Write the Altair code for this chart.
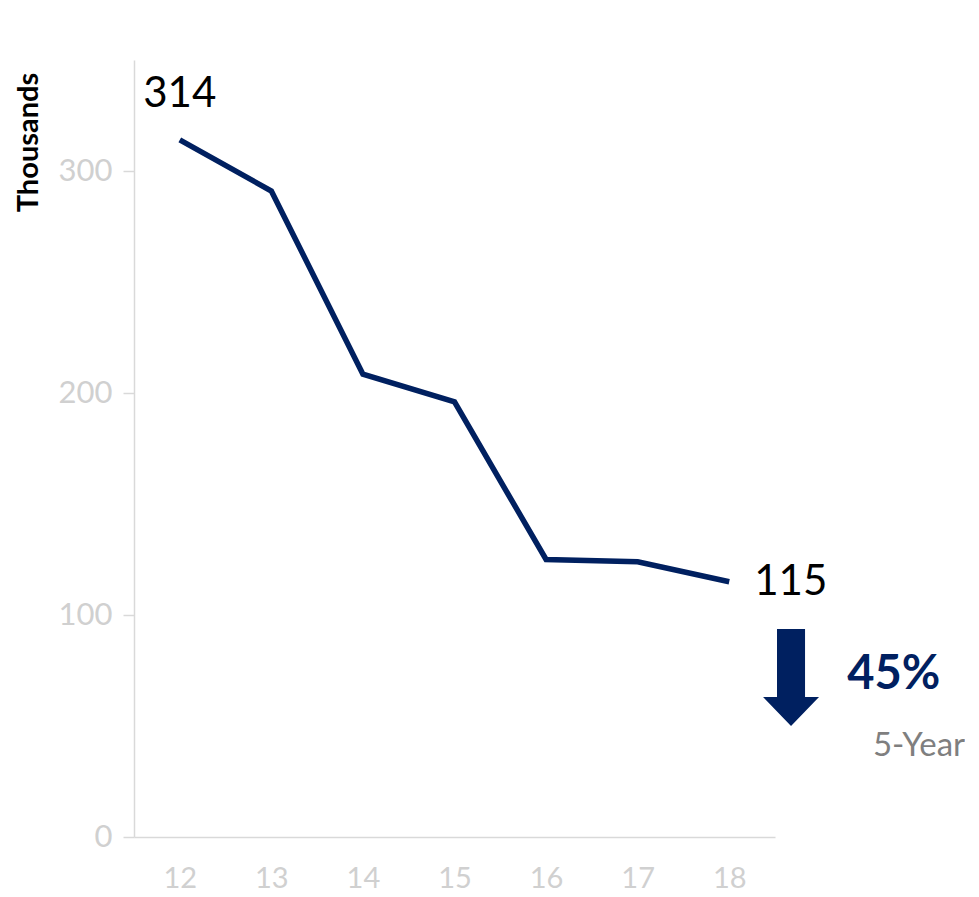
import altair as alt
import pandas as pd

# data
years = [12, 13, 14, 15, 16, 17, 18]
values = [314, 291, 208.5, 196, 125, 124, 115]
end_labels = ["314", "", "", "", "", "", "115"]

change_text = ["45%"]
period_text = ["5-Year"]

NAVY = "#002060"
FONT = "Lato"

df = pd.DataFrame({"year": years, "value": values, "label": end_labels})

x_scale = alt.Scale(domain=[11.5, 18.5], nice=False, zero=False)
y_scale = alt.Scale(domain=[0, 350], nice=False)

x_enc = alt.X(
    "year:Q",
    scale=x_scale,
    axis=alt.Axis(
        values=years, format="d", title=None, ticks=False, grid=False,
        labelFontSize=29, labelColor="#d0d0d0", labelFont=FONT,
        labelPadding=27, domainColor="#d9d9d9", domainWidth=1.5,
    ),
)
y_enc = alt.Y(
    "value:Q",
    scale=y_scale,
    axis=alt.Axis(
        values=[0, 100, 200, 300], title="Thousands", grid=False,
        labelFontSize=31, labelColor="#d0d0d0", labelFont=FONT,
        labelPadding=11, tickSize=11, tickColor="#d9d9d9", tickWidth=1.5,
        domainColor="#d9d9d9", domainWidth=1.5,
        titleFont=FONT, titleFontSize=29, titleFontWeight="bold",
        titleColor="black", titleAngle=-90, titleX=-106, titleY=82,
        titleAlign="center", titleBaseline="middle",
    ),
)

line = alt.Chart(df).mark_line(color=NAVY, strokeWidth=5.5).encode(x=x_enc, y=y_enc)

first = alt.Chart(df[df["year"] == years[0]]).mark_text(
    font=FONT, fontSize=42, color="black", baseline="bottom", dy=-24
).encode(x="year:Q", y="value:Q", text="label:N")

last = alt.Chart(df[df["year"] == years[-1]]).mark_text(
    font=FONT, fontSize=42, color="black", align="left", baseline="middle", dx=25
).encode(x="year:Q", y="value:Q", text="label:N")

arrow_df = pd.DataFrame({"x": [18.675], "y": [71.8]})
arrow = alt.Chart(arrow_df).mark_point(
    shape="M-0.289,-1 L0.289,-1 L0.289,0.402 L0.577,0.402 L0,1 L-0.577,0.402 L-0.289,0.402 Z",
    filled=True, color=NAVY, opacity=1, size=9409, strokeWidth=0,
).encode(x="x:Q", y="y:Q")

pct_df = pd.DataFrame({"x": [19.29], "y": [73], "t": change_text})
pct = alt.Chart(pct_df).mark_text(
    font=FONT, fontSize=47, fontWeight="bold", color=NAVY, align="left", baseline="middle"
).encode(x="x:Q", y="y:Q", text="t:N")

per_df = pd.DataFrame({"x": [19.57], "y": [41], "t": period_text})
per = alt.Chart(per_df).mark_text(
    font=FONT, fontSize=33, color="#7f7f7f", align="left", baseline="middle"
).encode(x="x:Q", y="y:Q", text="t:N")

chart = (
    alt.layer(line, first, last, arrow, pct, per)
    .properties(
        width=641, height=777,
        autosize=alt.AutoSizeParams(type="none"),
        padding={"left": 126, "top": 52, "right": 190, "bottom": 56},
    )
    .configure_view(stroke=None)
)

chart.save("out.html", embed_options={"renderer": "svg", "actions": False})
